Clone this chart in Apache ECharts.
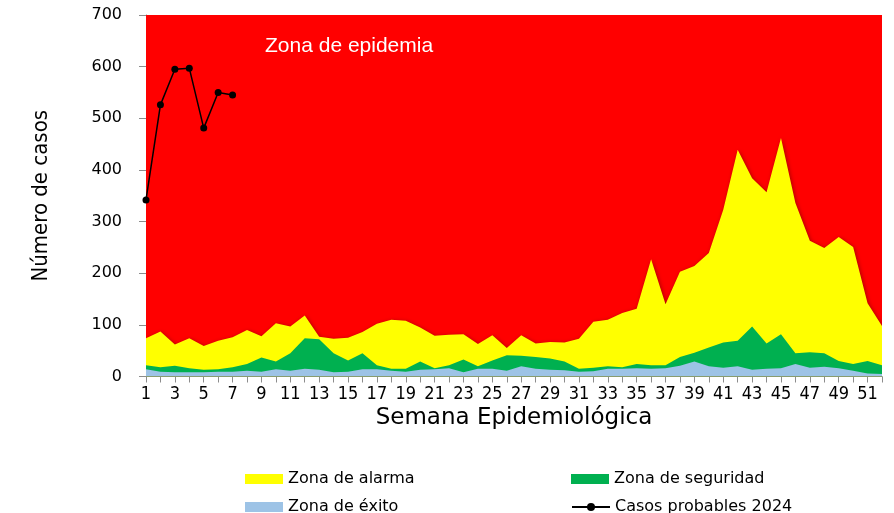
<!DOCTYPE html>
<html>
<head>
<meta charset="utf-8">
<script src="https://cdn.jsdelivr.net/npm/echarts@6/dist/echarts.min.js"></script>
<style>
  html, body { margin: 0; padding: 0; background: #ffffff; }
  #chart { width: 894px; height: 513px; }
</style>
</head>
<body>
<div id="chart"></div>
<script>
// Epidemiological weeks
const semanas = ['1','2','3','4','5','6','7','8','9','10','11','12','13','14','15','16','17','18','19','20',
  '21','22','23','24','25','26','27','28','29','30','31','32','33','34','35','36','37','38','39','40',
  '41','42','43','44','45','46','47','48','49','50','51','52'];

// Upper limit of the epidemic zone (top of the axis)
const zonaEpidemia = [700,700,700,700,700,700,700,700,700,700,700,700,700,700,700,700,700,700,700,700,
  700,700,700,700,700,700,700,700,700,700,700,700,700,700,700,700,700,700,700,700,
  700,700,700,700,700,700,700,700,700,700,700,700];

// Upper limit of the alarm zone
const zonaAlarma = [74,87,62,74,59,69,76,90,78,103,97,118,77,73,75,86,102,110,108,95,
  79,81,82,63,80,55,80,64,67,66,73,106,110,123,131,227,140,203,214,239,
  323,439,384,357,462,336,263,249,270,251,142,98];

// Upper limit of the safety zone
const zonaSeguridad = [22,18,21,16,13,14,18,24,37,29,45,74,72,45,31,45,22,15,15,29,
  16,22,33,20,31,41,40,38,35,29,15,17,20,18,24,22,22,38,46,56,
  66,69,97,64,82,45,47,45,30,24,30,22];

// Upper limit of the success zone
const zonaExito = [14,9,8,8,8,9,9,11,9,14,11,15,13,8,9,14,14,11,9,13,
  14,16,8,15,15,11,20,15,13,12,9,10,15,15,16,15,16,21,29,20,
  17,20,13,15,16,24,17,19,16,11,6,5];

// Probable cases reported in 2024
const casos2024 = [342,526,595,597,481,550,545];

const yTicks = { min: 0, max: 700, interval: 100 };

const narrowFont = '"DejaVu Sans Condensed", "Liberation Sans", sans-serif';

const chart = echarts.init(document.getElementById('chart'));

function zona(name, data, color, extra) {
  return Object.assign({
    name: name,
    type: 'line',
    data: data,
    symbol: 'none',
    silent: true,
    color: color,
    itemStyle: { color: color },
    lineStyle: { width: 0 },
    areaStyle: { color: color, opacity: 1 }
  }, extra || {});
}

const legendText = { fontFamily: 'DejaVu Sans', fontSize: 16, color: '#000' };
function legendAt(name, left, top, icon) {
  const item = { name: name };
  if (icon) item.icon = icon;
  return {
    data: [item], left: left, top: top,
    itemWidth: 38, itemHeight: 10, itemGap: 0,
    padding: 0, textStyle: legendText, selectedMode: false
  };
}

chart.setOption({
  animation: false,
  grid: { left: 146, right: 12, top: 15, bottom: 136.5 },
  xAxis: {
    type: 'category',
    data: semanas,
    boundaryGap: false,
    name: 'Semana Epidemiológica',
    nameLocation: 'middle',
    nameGap: 42,
    nameMoveOverlap: false,
    nameTextStyle: { fontFamily: 'DejaVu Sans', fontSize: 23, color: '#000', verticalAlign: 'middle' },
    axisLine: { lineStyle: { color: '#8c8c8c', width: 1 } },
    axisTick: { interval: 0, length: 6, lineStyle: { color: '#8c8c8c' } },
    axisLabel: { interval: 1, margin: 9, fontFamily: narrowFont, fontSize: 18, color: '#000' },
    splitLine: { show: false }
  },
  yAxis: {
    type: 'value',
    min: yTicks.min, max: yTicks.max, interval: yTicks.interval,
    name: 'Número de casos',
    nameLocation: 'middle',
    nameGap: 94,
    nameRotate: 90,
    nameMoveOverlap: false,
    nameTextStyle: { fontFamily: narrowFont, fontSize: 22, color: '#000' },
    axisLine: { show: true, lineStyle: { color: '#8c8c8c', width: 1 } },
    axisTick: { show: true, length: 7, lineStyle: { color: '#8c8c8c' } },
    axisLabel: { margin: 24, fontFamily: 'DejaVu Sans', fontSize: 16, color: '#000' },
    splitLine: { show: false }
  },
  legend: [
    legendAt('Zona de alarma', 245, 471, 'rect'),
    legendAt('Zona de seguridad', 571, 471, 'rect'),
    legendAt('Zona de éxito', 245, 499, 'rect'),
    legendAt('Casos probables 2024', 571, 499)
  ],
  graphic: [{
    type: 'text',
    left: 265, top: 36,
    z: 100,
    style: { text: 'Zona de epidemia', fill: '#ffffff', font: '21px "Liberation Sans", sans-serif' }
  }],
  series: [
    zona('Zona de epidemia', zonaEpidemia, '#ff0000'),
    zona('Zona de alarma', zonaAlarma, '#ffff00', {
      areaStyle: { color: '#ffff00', opacity: 1, shadowColor: 'rgba(0,0,0,0.35)', shadowBlur: 4, shadowOffsetX: 1, shadowOffsetY: 1 }
    }),
    zona('Zona de seguridad', zonaSeguridad, '#00b050'),
    zona('Zona de éxito', zonaExito, '#9dc3e6'),
    {
      name: 'Casos probables 2024',
      type: 'line',
      data: casos2024,
      color: '#000000',
      symbol: 'circle',
      symbolSize: 7,
      itemStyle: { color: '#000000' },
      lineStyle: { color: '#000000', width: 1.5 },
      z: 5
    }
  ]
});
</script>
</body>
</html>
